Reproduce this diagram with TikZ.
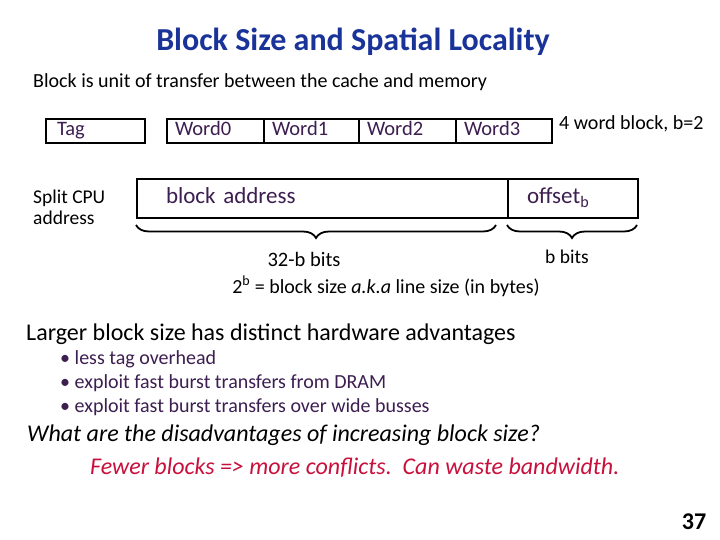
\documentclass[tikz,border=0pt]{standalone}
\usepackage{fontspec}
\setmainfont{Carlito}
\usetikzlibrary{positioning,decorations.pathreplacing}

\definecolor{titleblue}{RGB}{26,51,153}
\definecolor{wordpurple}{RGB}{60,30,80}
\definecolor{answerred}{RGB}{200,16,60}

\tikzset{
  cell/.style={draw, line width=1.8pt, outer sep=0pt, minimum height=24pt,
    inner xsep=8pt, inner ysep=0pt, text height=13pt, text depth=4pt,
    align=left, text=wordpurple, font=\fontsize{20.5}{22}\selectfont},
  addr/.style={draw, line width=1.8pt, outer sep=0pt, minimum height=39pt,
    inner ysep=0pt, text height=15pt, text depth=5pt,
    align=left, text=wordpurple, font=\fontsize{23}{25}\selectfont},
  bracebar/.style={decorate, decoration={brace, mirror, amplitude=13pt}, line width=1.8pt},
  plain/.style={inner sep=0pt, anchor=west}
}

\begin{document}
\begin{tikzpicture}[x=1pt, y=-1pt]
    \useasboundingbox (0,0) rectangle (720,540);

    % Titel
    \node[inner sep=0pt, text=titleblue, font=\fontsize{32}{36}\selectfont\bfseries] (title) at (353,42) {Block Size and Spatial Locality};
    \node[plain, font=\fontsize{20}{24}\selectfont] (unit) at (33,82) {Block is unit of transfer between the cache and memory};

    % Tag und Block mit 4 Woertern
    \node[cell, anchor=west, text width=83pt] (tag) at (46,131) {\hspace{3pt}Tag};
    \node[cell, anchor=west, text width=81pt] (w0) at (167,131) {Word0};
    \node[cell, right=0pt of w0, text width=79pt] (w1) {Word1};
    \node[cell, right=0pt of w1, text width=81pt] (w2) {Word2};
    \node[cell, right=0pt of w2, text width=80pt] (w3) {Word3};
    \node[plain, font=\fontsize{20}{22}\selectfont] (four) at (559,124) {4 word block, b=2};

    % Aufteilung der CPU-Adresse
    \node[plain, align=left, font=\fontsize{19.5}{21}\selectfont] (split) at (33,207) {Split CPU\\address};
    \node[addr, anchor=west, text width=313pt, inner xsep=29pt] (blockaddr) at (137,198.5) {block address};
    \node[addr, right=0pt of blockaddr, text width=92pt, inner xsep=19pt] (offset) {offset\textsubscript{b}};

    % Klammern
    \draw[bracebar] ([yshift=-7pt,xshift=-1pt]blockaddr.south west) -- ([yshift=-7pt,xshift=-12pt]blockaddr.south east);
    \draw[bracebar] ([yshift=-7pt,xshift=-1pt]offset.south west) -- ([yshift=-7pt,xshift=-1pt]offset.south east);
    \node[inner sep=0pt, font=\fontsize{20.5}{22}\selectfont] (lowbits) at (304,259) {32-b bits};
    \node[inner sep=0pt, font=\fontsize{19.5}{22}\selectfont] (bbits) at (567,257) {b bits};
    \node[inner sep=0pt, font=\fontsize{20}{22}\selectfont] (linesize) at (386,286) {2\textsuperscript{b} = block size \textit{a.k.a} line size (in bytes)};

    % Vorteile
    \node[plain, font=\fontsize{24}{28}\selectfont] (larger) at (26,334) {Larger block size has distinct hardware advantages};
    \node[plain, text=wordpurple, font=\fontsize{20}{22}\selectfont] (adv1) at (60,359) {• less tag overhead};
    \node[plain, text=wordpurple, font=\fontsize{20}{22}\selectfont] (adv2) at (60,383) {• exploit fast burst transfers from DRAM};
    \node[plain, text=wordpurple, font=\fontsize{20}{22}\selectfont] (adv3) at (60,407) {• exploit fast burst transfers over wide busses};

    % Nachteile
    \node[plain, font=\fontsize{24}{28}\selectfont\itshape] (question) at (27,435) {What are the disadvantages of increasing block size?};
    \node[plain, text=answerred, font=\fontsize{24}{28}\selectfont\itshape] (answer) at (90,468) {Fewer blocks => more conflicts.\ \ Can waste bandwidth.};

    % Seitenzahl
    \node[inner sep=0pt, font=\fontsize{24}{26}\selectfont\bfseries] (page) at (694,522) {37};
\end{tikzpicture}
\end{document}
